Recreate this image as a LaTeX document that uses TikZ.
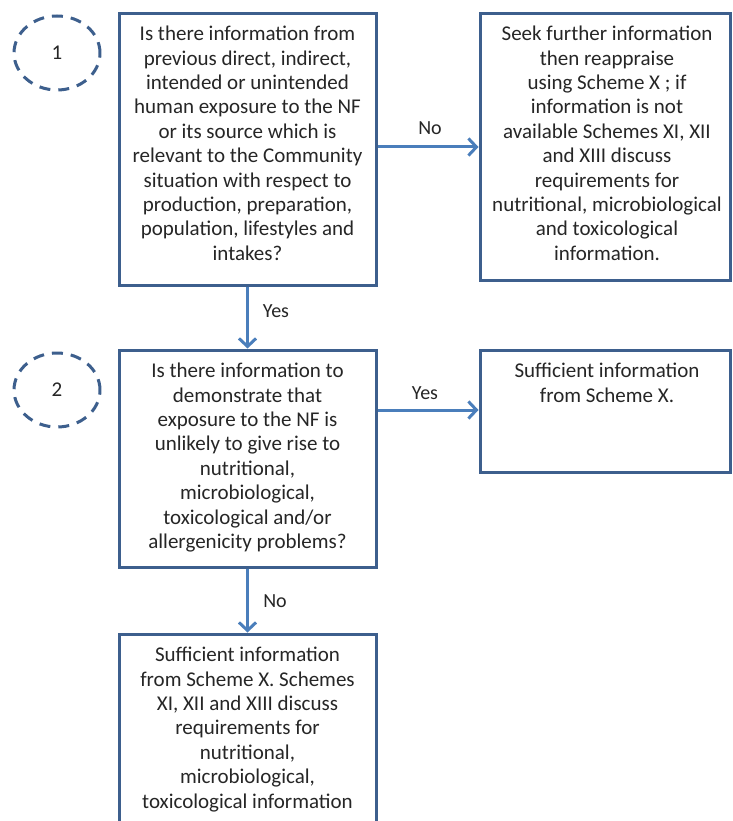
\documentclass[tikz,border=0pt]{standalone}
\usepackage{fontspec}
\setmainfont{Carlito}
\usetikzlibrary{arrows.meta,shapes.geometric}
\definecolor{boxline}{HTML}{3D5F8D}
\definecolor{arrowline}{HTML}{4A7EBB}
\definecolor{txtcol}{HTML}{262626}
\tikzset{
  x=1pt, y=-1pt,
  box/.style={draw=boxline, line width=3pt, rectangle, inner sep=0pt},
  txt/.style={anchor=north, align=center, inner sep=0pt, text=txtcol,
    font=\fontsize{21}{24.4}\selectfont},
  lbl/.style={inner sep=0pt, text=txtcol, font=\fontsize{20}{24}\selectfont},
  flow/.style={draw=arrowline, line width=3pt,
    -{Straight Barb[length=8pt,width=17pt,line width=3pt]}},
  stage/.style={draw=boxline, line width=3pt, ellipse, dash pattern=on 11pt off 8pt,
    minimum width=86pt, minimum height=74pt, inner sep=0pt, text=txtcol,
    font=\fontsize{21}{24}\selectfont},
}
\begin{document}
\begin{tikzpicture}
\useasboundingbox (0,0) rectangle (732,821);
\fill[white] (0,0) rectangle (732,821);

% numbered stage markers
\node[stage] (c1) at (57,53) {1};
\node[stage] (c2) at (57,390) {2};

% boxes
\node[box, minimum width=257pt, minimum height=271pt] (b1) at (247.5,149.5) {};
\node[box, minimum width=250pt, minimum height=266pt] (b2) at (605,147) {};
\node[box, minimum width=257pt, minimum height=217pt] (b3) at (247.5,458.5) {};
\node[box, minimum width=250pt, minimum height=122pt] (b4) at (605,411) {};
\node[box, minimum width=257pt, minimum height=200pt] (b5) at (247.5,734) {};

% box texts
\node[txt] (t1) at (247.5,26) {Is there information from\\previous direct, indirect,\\intended or unintended\\human exposure to the NF\\or its source which is\\relevant to the Community\\situation with respect to\\production, preparation,\\population, lifestyles and\\intakes?};
\node[txt] (t2) at (607,26) {Seek further information\\then reappraise\\using Scheme X ; if\\information is not\\available Schemes XI, XII\\and XIII discuss\\requirements for\\nutritional, microbiological\\and toxicological\\information.};
\node[txt] (t3) at (247.5,363) {Is there information to\\demonstrate that\\exposure to the NF is\\unlikely to give rise to\\nutritional,\\microbiological,\\toxicological and/or\\allergenicity problems?};
\node[txt] (t4) at (607,363) {Sufficient information\\from Scheme X.};
\node[txt] (t5) at (247.5,647) {Sufficient information\\from Scheme X. Schemes\\XI, XII and XIII discuss\\requirements for\\nutritional,\\microbiological,\\toxicological information};

% connectors
\draw[flow] (b1.east |- 0,147) -- (b2.west |- 0,147);
\draw[flow] (b1.south) -- (b3.north);
\draw[flow] (b3.east |- 0,410) -- (b4.west |- 0,410);
\draw[flow] (b3.south) -- (b5.north);

% connector labels
\node[lbl] (l1) at (430,128) {No};
\node[lbl] (l2) at (276,311) {Yes};
\node[lbl] (l3) at (425,393) {Yes};
\node[lbl] (l4) at (275,601) {No};
\end{tikzpicture}
\end{document}
